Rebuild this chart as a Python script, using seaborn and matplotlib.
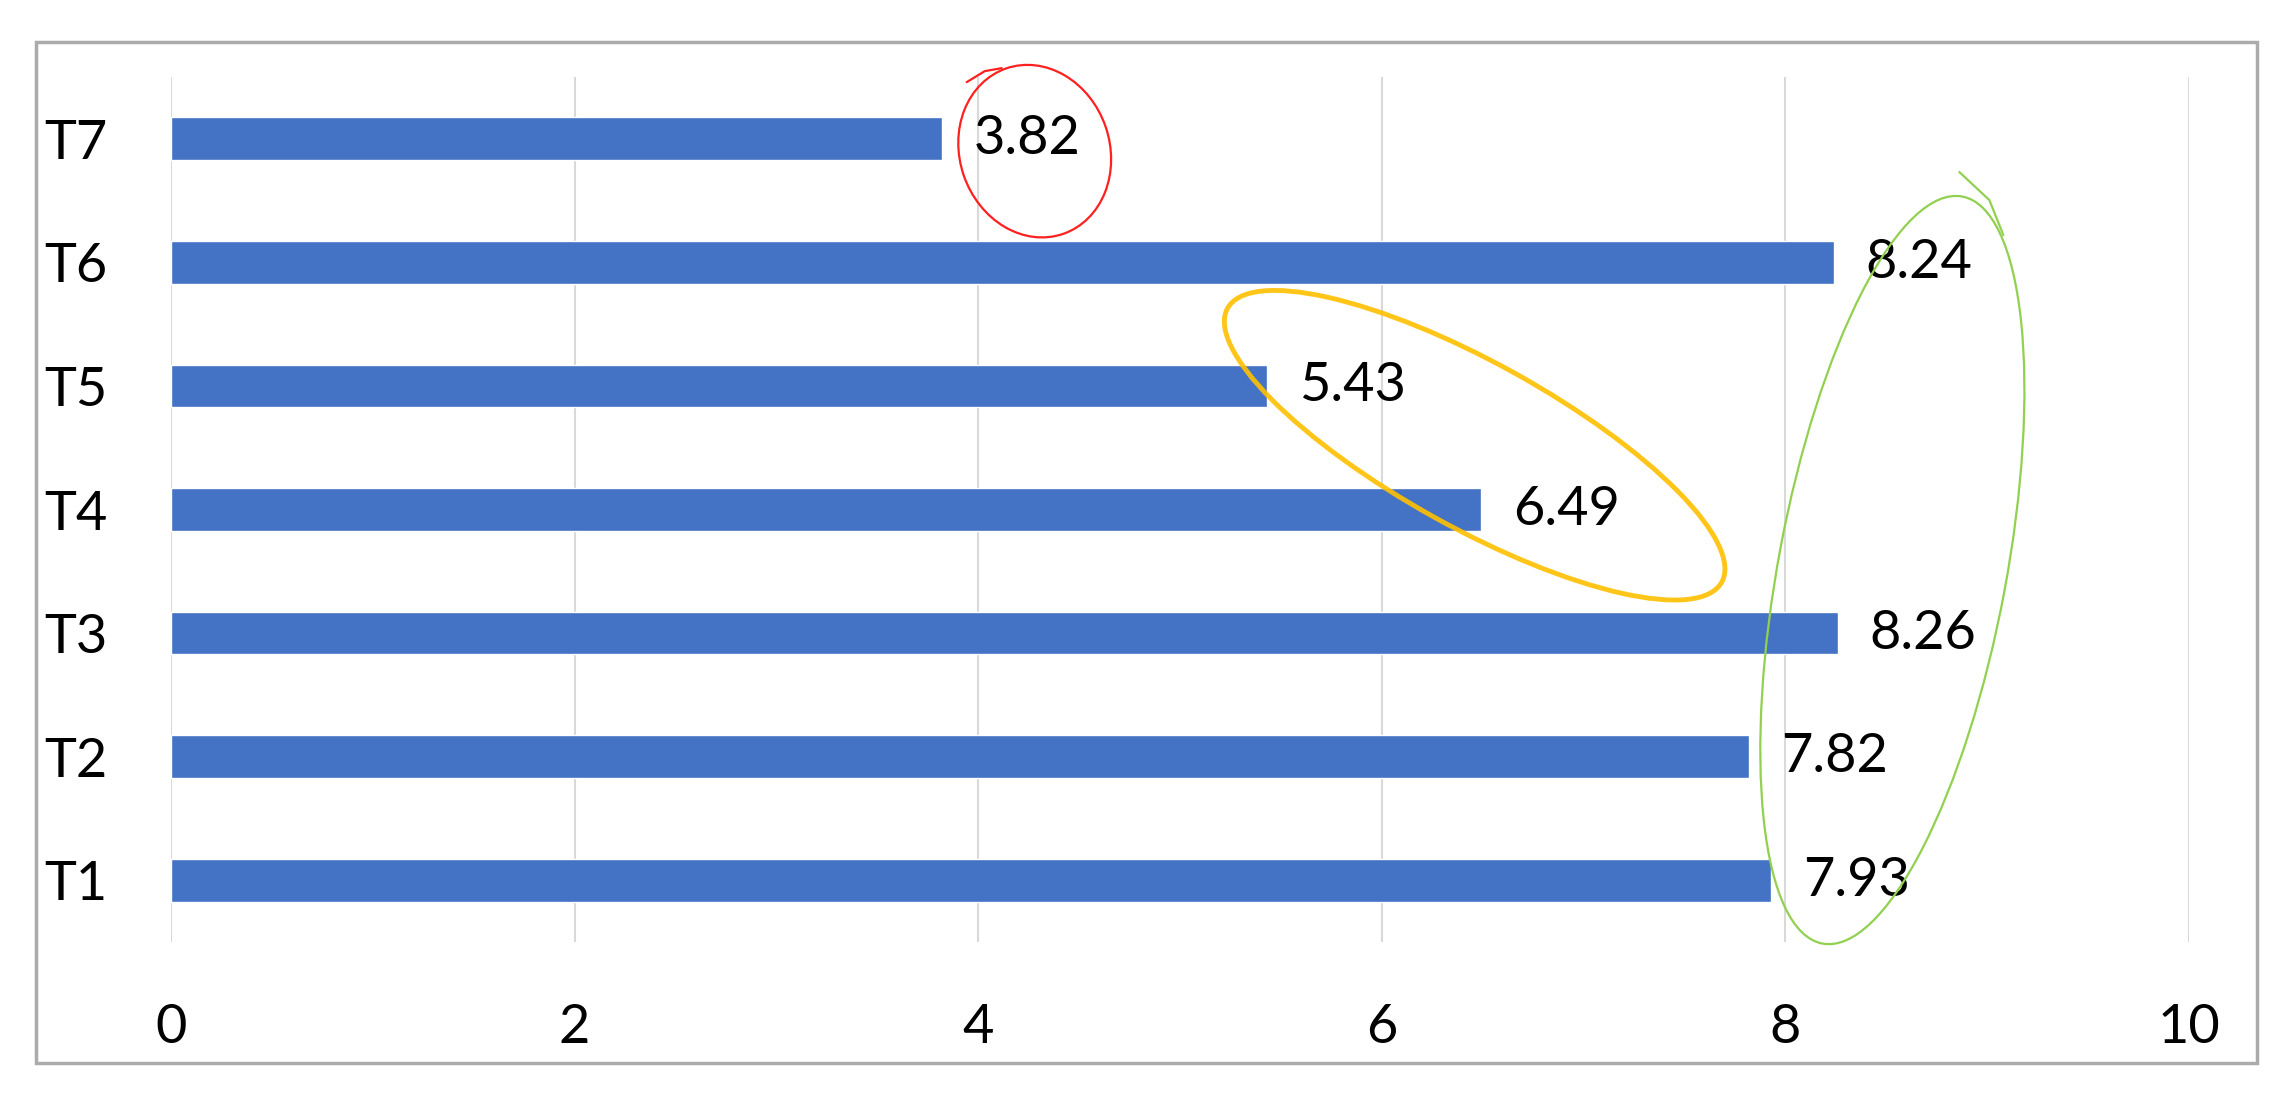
import matplotlib
matplotlib.use("Agg")
import matplotlib.pyplot as plt
from matplotlib.patches import Ellipse, Rectangle
from matplotlib.lines import Line2D
from matplotlib.transforms import IdentityTransform
import seaborn as sns
import pandas as pd

# ---- data ----
categories = ["T7", "T6", "T5", "T4", "T3", "T2", "T1"]
values = [3.82, 8.24, 5.43, 6.49, 8.26, 7.82, 7.93]
value_labels = ["3.82", "8.24", "5.43", "6.49", "8.26", "7.82", "7.93"]
x_ticks = [0, 2, 4, 6, 8, 10]

df = pd.DataFrame({"cat": categories, "val": values})

sns.set_style("white")
plt.rcParams["font.family"] = ["Lato", "DejaVu Sans"]

W, H = 2296, 1095
fig = plt.figure(figsize=(W / 100, H / 100), dpi=100)
ax = fig.add_axes([171 / W, 1 - 942 / H, (2189 - 171) / W, (942 - 77) / H])

sns.barplot(data=df, x="val", y="cat", orient="h", color="#4472C4",
            saturation=1, width=0.345, order=categories, ax=ax)

ax.set_xlim(0, 10)
ax.set_ylim(len(categories) - 0.5, -0.5)
ax.set_xticks(x_ticks)
ax.set_xticklabels([str(t) for t in x_ticks])
ax.set_xlabel("")
ax.set_ylabel("")
ax.xaxis.grid(True, color="#D9D9D9", linewidth=1.5)
ax.yaxis.grid(False)
ax.set_axisbelow(True)
for s in ax.spines.values():
    s.set_visible(False)
ax.tick_params(axis="x", length=0, pad=44, labelsize=39, labelcolor="black")
ax.tick_params(axis="y", length=0, pad=46, labelsize=39, labelcolor="black")

ax.bar_label(ax.containers[0], labels=value_labels, padding=23, fontsize=39,
             color="black")

# outer chart frame
fig.add_artist(Rectangle((36 / W, 1 - 1063 / H), (2257 - 36) / W, (1063 - 42) / H,
                         transform=fig.transFigure, fill=False,
                         edgecolor="#ABABAB", linewidth=2.5))

# hand-drawn highlight ellipses, anchored to data positions
def ring(xd, yd, major, minor, angle, color, lw, alpha=1.0, tail=None):
    cx, cy = ax.transData.transform((xd, yd))
    e = Ellipse((cx, cy), major, minor, angle=angle, fill=False,
                edgecolor=color, linewidth=lw, alpha=alpha,
                transform=IdentityTransform(), clip_on=False)
    fig.add_artist(e)
    if tail:
        xs = [cx + dx for dx, dy in tail]
        ys = [cy + dy for dx, dy in tail]
        fig.add_artist(Line2D(xs, ys, color=color, linewidth=lw, alpha=alpha,
                              transform=IdentityTransform(),
                              solid_capstyle="round"))

ring(4.28, 0.10, 175, 150, -71, "#FF2020", 1.6,
     tail=[(-68, 69), (-50, 80), (-33, 83)])
ring(6.46, 2.48, 565, 165, -29, "#FFC000", 3.5, 0.9)
ring(8.53, 3.49, 760, 228, 79.4, "#92D050", 1.6,
     tail=[(111, 335), (97, 370), (67, 398)])

fig.savefig("out.png", dpi=100, facecolor="white")
